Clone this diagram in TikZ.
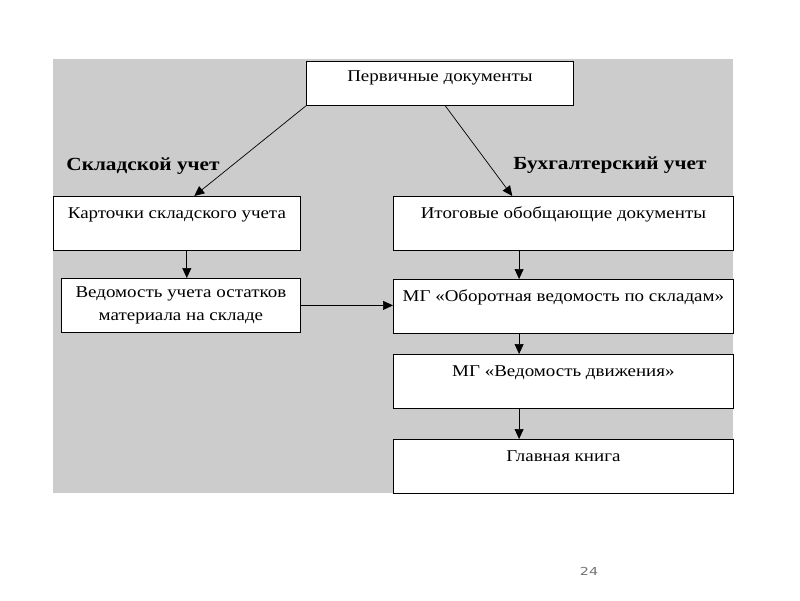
\documentclass[tikz,border=0pt]{standalone}
\usepackage{fontspec}
\setmainfont[FakeStretch=1.15]{Liberation Serif}
\newfontfamily\pagefont[FakeStretch=1.3]{DejaVu Sans}
\usetikzlibrary{calc,arrows.meta}
\tikzset{
	box/.style={draw, fill=white, line width=0.8pt, inner sep=0pt, minimum height=54pt, font=\fontsize{16.5}{23}\selectfont},
	topline/.style={text height=22pt, text depth=32pt},
	arr/.style={line width=0.7pt, -{Triangle[length=10pt,width=9pt]}},
	headline/.style={font=\fontsize{18.5}{22}\selectfont\bfseries}
}

\begin{document}
\begin{tikzpicture}[x=1pt, y=-1pt]
		%%%%% START %%%%%
		
		\useasboundingbox (0, 0) rectangle (800, 600);
		\fill[color=black!20] (53, 59) rectangle (733, 493);
		
		\node[box, text height=20pt, text depth=24pt, minimum height=44pt, minimum width=267pt, anchor=north west] (prim) at (306, 61) {Первичные документы};
		
		\node[headline] (sklad) at (143, 166) {Складской учет};
		\node[headline] (buh) at (610, 165) {Бухгалтерский учет};
		
		\node[box, topline, minimum width=247pt, anchor=north west] (kart) at (53, 196) {Карточки складского учета};
		\node[box, align=center, minimum width=239pt, anchor=north west] (ved) at (61, 278) {Ведомость учета остатков\\материала на складе};
		
		\node[box, topline, minimum width=340pt, anchor=north west] (itog) at (393, 196) {Итоговые обобщающие документы};
		\node[box, topline, minimum width=340pt, anchor=north west] (obor) at (393, 279) {МГ «Оборотная ведомость по складам»};
		\node[box, topline, minimum width=340pt, anchor=north west] (dvig) at (393, 354) {МГ «Ведомость движения»};
		\node[box, topline, minimum width=340pt, anchor=north west] (glav) at (393, 439) {Главная книга};
		
		\draw[arr] (prim.south west) -- ($(kart.north west)!0.57!(kart.north east)$);
		\draw[arr] ($(prim.south west)!0.52!(prim.south east)$) -- ($(itog.north west)!0.35!(itog.north east)$);
		
		\draw[arr] ($(kart.south west)!0.54!(kart.south east)$) coordinate (k1) -- (k1 |- ved.north);
		\draw[arr] (ved.east) -- (ved.east -| obor.west);
		
		\foreach \a/\b in {itog/obor, obor/dvig, dvig/glav}
			\draw[arr] ($(\a.south west)!0.37!(\a.south east)$) coordinate (c1) -- (c1 |- \b.north);
		
		\node[color=black!55, font=\pagefont\fontsize{11}{13}\selectfont] (page) at (589, 571) {24};
		
		%%%%% END %%%%%
\end{tikzpicture}
\end{document}
